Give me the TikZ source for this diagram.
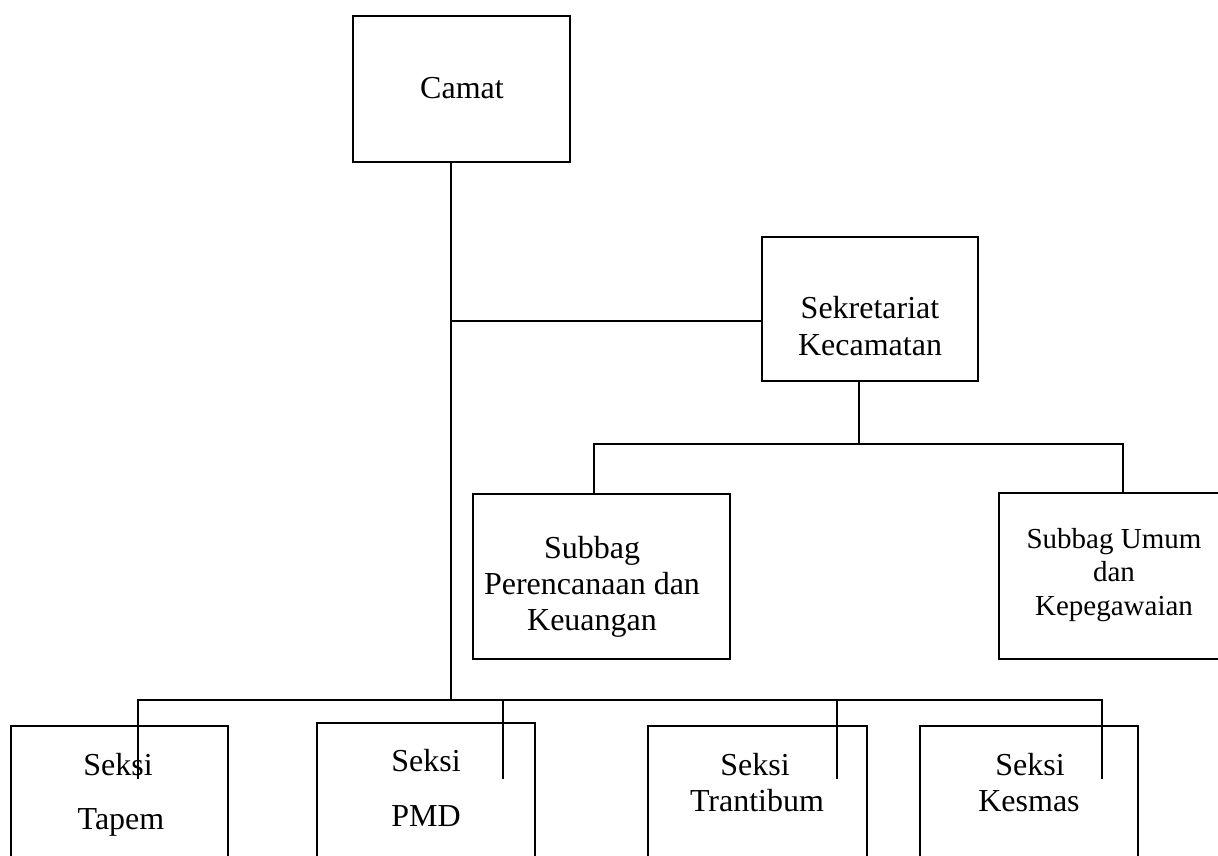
\documentclass[tikz,border=0pt]{standalone}
\usepackage{fontspec}
\setmainfont{Liberation Serif}
\begin{document}
\begin{tikzpicture}[x=0.5pt,y=-0.5pt,
  box/.style={draw, line width=1.1pt, inner sep=0pt, outer sep=0pt, anchor=north west},
  conn/.style={line width=1.1pt},
  txt/.style={anchor=base, inner sep=0pt, font=\fontsize{16}{19}\selectfont},
  txtsm/.style={anchor=base, inner sep=0pt, font=\fontsize{14.5}{17}\selectfont}]
\clip (0,0) rectangle (1218,855);
\fill[white] (0,0) rectangle (1218,855);
% boxes
\node[box, minimum width=108.5pt, minimum height=73pt] (camat) at (353,16) {};
\node[box, minimum width=108pt, minimum height=72pt] (sek) at (762,237) {};
\node[box, minimum width=128.5pt, minimum height=82.5pt] (pr) at (473,494) {};
\node[box, minimum width=120pt, minimum height=83pt] (um) at (999,493) {};
\node[box, minimum width=108.5pt, minimum height=100pt] (tapem) at (11,726) {};
\node[box, minimum width=109pt, minimum height=100pt] (pmd) at (317,723) {};
\node[box, minimum width=109.5pt, minimum height=100pt] (tran) at (648,726) {};
\node[box, minimum width=109pt, minimum height=100pt] (kes) at (920,726) {};
% texts
\node[txt] (tcamat) at (462,99) {Camat};
\node[txt] (tsek1) at (870,318) {Sekretariat};
\node[txt] (tsek2) at (870,355) {Kecamatan};
\node[txt] (tpr1) at (592,558) {Subbag};
\node[txt] (tpr2) at (592,594) {Perencanaan dan};
\node[txt] (tpr3) at (592,630) {Keuangan};
\node[txtsm] (tum1) at (1114,548) {Subbag Umum};
\node[txtsm] (tum2) at (1114,581) {dan};
\node[txtsm] (tum3) at (1114,615) {Kepegawaian};
\node[txt] (tta1) at (118,775) {Seksi};
\node[txt] (tta2) at (121,829) {Tapem};
\node[txt] (tpm1) at (426,771) {Seksi};
\node[txt] (tpm2) at (426,826) {PMD};
\node[txt] (ttr1) at (755,775) {Seksi};
\node[txt] (ttr2) at (757,811) {Trantibum};
\node[txt] (tke1) at (1030,775) {Seksi};
\node[txt] (tke2) at (1029,811) {Kesmas};
% connector coordinates
\coordinate (j1) at (451,321);
\coordinate (j2) at (451,700);
\coordinate (b1) at (859,444);
\coordinate (b1l) at (594,444);
\coordinate (b1r) at (1123,444);
\coordinate (b2l) at (138,700);
\coordinate (b2r) at (1102,700);
\coordinate (e1) at (138,779);
\coordinate (e2) at (503,779);
\coordinate (e3) at (837,779);
\coordinate (e4) at (1102,779);
% connectors
\draw[conn] (camat.south -| j1) -- (j2);
\draw[conn] (j1) -- (sek.west |- j1);
\draw[conn] (sek.south -| b1) -- (b1);
\draw[conn] (pr.north -| b1l) -- (b1l) -- (b1r) -- (um.north -| b1r);
\draw[conn] (e1) -- (b2l) -- (b2r) -- (e4);
\draw[conn] (e2) -- (e2 |- b2l);
\draw[conn] (e3) -- (e3 |- b2l);
\end{tikzpicture}
\end{document}
